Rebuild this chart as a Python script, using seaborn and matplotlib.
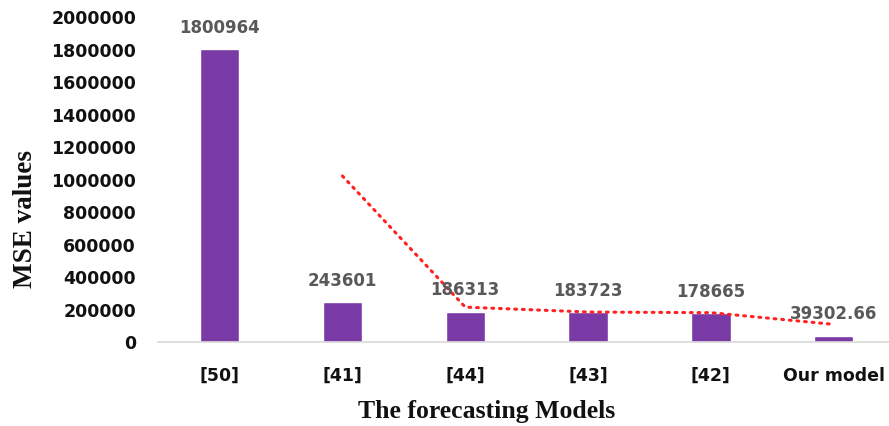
import matplotlib
matplotlib.use("Agg")
import matplotlib.pyplot as plt
import seaborn as sns
import pandas as pd

categories = ["[50]", "[41]", "[44]", "[43]", "[42]", "Our model"]
mse_values = [1800964, 243601, 186313, 183723, 178665, 39302.66]
value_labels = ["1800964", "243601", "186313", "183723", "178665", "39302.66"]
# 2-period moving-average trendline (starts at 2nd category)
trend_categories = ["[41]", "[44]", "[43]", "[42]", "Our model"]
trend_values = [1022000, 215000, 185000, 181000, 109000]
y_ticks = [0, 200000, 400000, 600000, 800000, 1000000, 1200000, 1400000, 1600000, 1800000, 2000000]

sns.set_theme(style="white")
plt.rcParams["font.family"] = ["DejaVu Sans"]

df = pd.DataFrame({"model": categories, "mse": mse_values})

fig = plt.figure(figsize=(8.89, 4.26), dpi=100)
ax = fig.add_axes([0.178, 0.197, 0.822, 0.763])

sns.barplot(data=df, x="model", y="mse", order=categories, color="#7a3aa6",
            width=0.32, saturation=1, ax=ax)

pos = {c: i for i, c in enumerate(categories)}
ax.plot([pos[c] for c in trend_categories], trend_values, color="#ff2020",
        linestyle=(0, (0.6, 1.9)), linewidth=2.2, dash_capstyle="round", zorder=3)

for i, (v, lab) in enumerate(zip(mse_values, value_labels)):
    ax.annotate(lab, (i, v), xytext=(0, 9), textcoords="offset points",
                ha="center", va="bottom", fontsize=12, fontweight="bold", color="#595959")

ax.set_ylim(0, 2000000)
ax.set_xlim(-0.5, 5.45)
ax.set_yticks(y_ticks)
ax.set_yticklabels([str(t) for t in y_ticks])
for s in ["top", "right", "left"]:
    ax.spines[s].set_visible(False)
ax.spines["bottom"].set_color("#d9d9d9")
ax.spines["bottom"].set_linewidth(1.2)
ax.tick_params(axis="y", length=0, pad=16, labelsize=12.5, labelcolor="#111111")
ax.tick_params(axis="x", length=0, pad=18, labelsize=12.5, labelcolor="#111111")
for t in ax.get_yticklabels() + ax.get_xticklabels():
    t.set_fontweight("bold")

ax.set_xlabel("The forecasting Models", family="Liberation Serif", fontweight="bold",
              fontsize=18.5, color="#111111")
ax.set_ylabel("MSE values", family="Liberation Serif", fontweight="bold",
              fontsize=19.5, color="#111111")
ax.xaxis.set_label_coords(0.45, -0.178)
ax.xaxis.label.set_verticalalignment("top")
ax.yaxis.set_label_coords(-0.182, 0.38)
ax.yaxis.label.set_verticalalignment("center")

fig.savefig("out.png", dpi=100)
